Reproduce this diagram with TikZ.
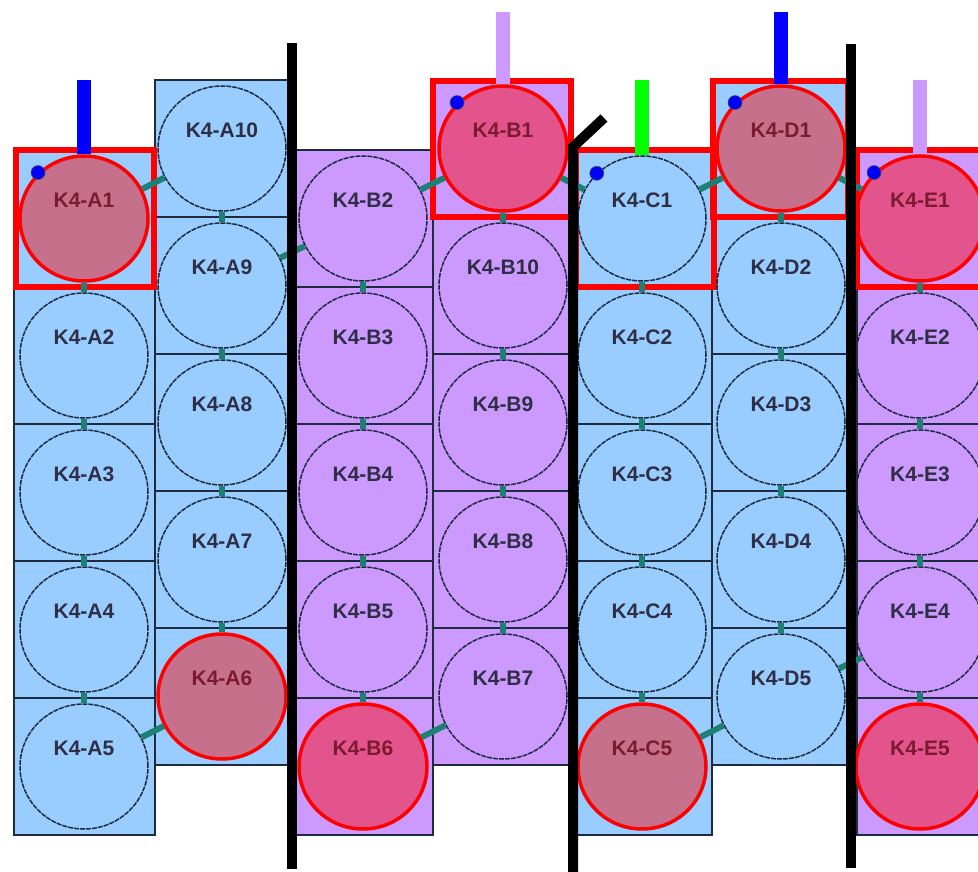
\documentclass[tikz,border=0pt]{standalone}
\usepackage{fontspec}
\setmainfont{Liberation Sans}
\usepackage{tikz}
\usetikzlibrary{shapes.geometric}
\definecolor{cellblue}{HTML}{99CCFF}
\definecolor{cellpurple}{HTML}{CC99FF}
\definecolor{edge}{HTML}{1E2A3E}
\definecolor{link}{HTML}{1C8075}
\definecolor{txt}{HTML}{2E2E44}
\definecolor{hottxt}{HTML}{7B1A30}
\definecolor{inblue}{HTML}{0000FF}
\definecolor{inlilac}{HTML}{CC99FF}
\definecolor{ingreen}{HTML}{00FF00}
\tikzset{
  blueCell/.style={fill=cellblue, draw=edge, line width=1.3pt},
  purpleCell/.style={fill=cellpurple, draw=edge, line width=1.3pt},
  hotBox/.style={draw=red, line width=6.5pt},
  cellCirc/.style={ellipse, minimum width=128pt, minimum height=125pt, inner sep=0pt,
    draw=edge, line width=1.5pt, dash pattern=on 5pt off 1pt},
  hotCirc/.style={cellCirc, solid, draw=red, line width=3.5pt, fill=red, fill opacity=0.45},
  lbl/.style={text=txt, text opacity=1, fill opacity=1, font=\bfseries\fontsize{21}{24}\selectfont, yshift=18pt},
  hotLbl/.style={lbl, text=hottxt},
  link/.style={draw=link, line width=6pt},
  wall/.style={draw=black, line width=10pt},
  feed/.style={line width=14pt},
  dot/.style={fill=inblue, draw=black!70, line width=0.6pt}
}
\begin{document}
\begin{tikzpicture}[x=1pt,y=-1pt]
  \useasboundingbox (0,0) rectangle (978,872);

  % cells
  \foreach \r in {0,...,4} {
    \draw[blueCell]   (14,150+137*\r) rectangle ++(141,137);
    \draw[blueCell]   (155,80+137*\r) rectangle ++(134,137);
    \draw[purpleCell] (296,150+137*\r) rectangle ++(137,137);
    \draw[purpleCell] (433,80+137*\r) rectangle ++(137,137);
    \draw[blueCell]   (575,150+137*\r) rectangle ++(137,137);
    \draw[blueCell]   (712,80+137*\r) rectangle ++(136,137);
    \draw[purpleCell] (857,150+137*\r) rectangle ++(138,137);
  }

  % red frames
  \draw[hotBox] (16,150) rectangle (154,287);
  \draw[hotBox] (433,81) rectangle (571,217);
  \draw[hotBox] (576,150) rectangle (714,287);
  \draw[hotBox] (713,81) rectangle (848,217);
  \draw[hotBox] (857,150) rectangle (995,287);

  % feeds
  \coordinate (inA) at (84,80);
  \coordinate (inB) at (503,12);
  \coordinate (inC) at (642,80);
  \coordinate (inD) at (781,12);
  \coordinate (inE) at (920,80);

  % circles
  \foreach \n/\r/\s/\l in {1/0/hotCirc/hotLbl,2/1/cellCirc/lbl,3/2/cellCirc/lbl,4/3/cellCirc/lbl,5/4/cellCirc/lbl}
    \node[\s, label={[\l]center:K4-A\n}] (A\n) at (84,218.5+137*\r) {};
  \foreach \n/\r/\s/\l in {10/0/cellCirc/lbl,9/1/cellCirc/lbl,8/2/cellCirc/lbl,7/3/cellCirc/lbl,6/4/hotCirc/hotLbl}
    \node[\s, label={[\l]center:K4-A\n}] (A\n) at (222,148.5+137*\r) {};
  \foreach \n/\r/\s/\l in {2/0/cellCirc/lbl,3/1/cellCirc/lbl,4/2/cellCirc/lbl,5/3/cellCirc/lbl,6/4/hotCirc/hotLbl}
    \node[\s, label={[\l]center:K4-B\n}] (B\n) at (363,218.5+137*\r) {};
  \foreach \n/\r/\s/\l in {1/0/hotCirc/hotLbl,10/1/cellCirc/lbl,9/2/cellCirc/lbl,8/3/cellCirc/lbl,7/4/cellCirc/lbl}
    \node[\s, label={[\l]center:K4-B\n}] (B\n) at (503,148.5+137*\r) {};
  \foreach \n/\r/\s/\l in {1/0/cellCirc/lbl,2/1/cellCirc/lbl,3/2/cellCirc/lbl,4/3/cellCirc/lbl,5/4/hotCirc/hotLbl}
    \node[\s, label={[\l]center:K4-C\n}] (C\n) at (642,218.5+137*\r) {};
  \foreach \n/\r/\s/\l in {1/0/hotCirc/hotLbl,2/1/cellCirc/lbl,3/2/cellCirc/lbl,4/3/cellCirc/lbl,5/4/cellCirc/lbl}
    \node[\s, label={[\l]center:K4-D\n}] (D\n) at (781,148.5+137*\r) {};
  \foreach \n/\r/\s/\l in {1/0/hotCirc/hotLbl,2/1/cellCirc/lbl,3/2/cellCirc/lbl,4/3/cellCirc/lbl,5/4/hotCirc/hotLbl}
    \node[\s, label={[\l]center:K4-E\n}] (E\n) at (920,218.5+137*\r) {};

  \draw[feed, draw=inblue] (inA) -- (A1.north);
  \draw[feed, draw=inlilac] (inB) -- (B1.north);
  \draw[feed, draw=ingreen] (inC) -- (C1.north);
  \draw[feed, draw=inblue] (inD) -- (D1.north);
  \draw[feed, draw=inlilac] (inE) -- (E1.north);

  % links
  \foreach \a/\b in {A1/A2,A2/A3,A3/A4,A4/A5,A5/A6,A6/A7,A7/A8,A8/A9,A9/A10,A10/A1,
      A9/B2,B2/B1,B1/B10,B10/B9,B9/B8,B8/B7,B7/B6,B6/B5,B5/B4,B4/B3,B3/B2,
      B1/C1,C1/C2,C2/C3,C3/C4,C4/C5,C5/D5,D5/D4,D4/D3,D3/D2,D2/D1,D1/C1,
      D1/E1,D5/E4,E1/E2,E2/E3,E3/E4,E4/E5}
    \draw[link] (\a) -- (\b);

  % walls
  \draw[wall] (292,43) -- (292,869);
  \draw[wall] (573,875) -- (573,147) -- (604,118);
  \draw[wall] (851,44) -- (851,868);

  % start marks
  \draw[dot] (A1.135) circle (7);
  \draw[dot] (B1.135) circle (7);
  \draw[dot] (C1.135) circle (7);
  \draw[dot] (D1.135) circle (7);
  \draw[dot] (E1.135) circle (7);
\end{tikzpicture}
\end{document}
